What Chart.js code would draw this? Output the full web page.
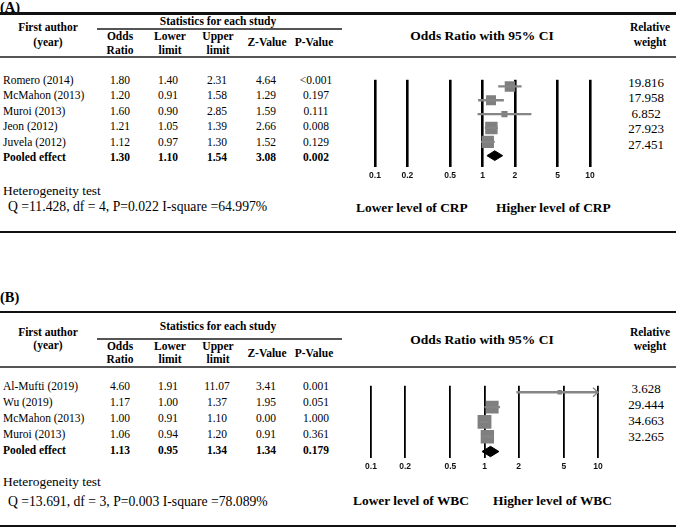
<!DOCTYPE html>
<html>
<head>
<meta charset="utf-8">
<script src="https://cdn.jsdelivr.net/npm/chart.js@4.4.0/dist/chart.umd.min.js"></script>
<style>
  html, body { margin: 0; padding: 0; background: #fff; }
  #page { position: relative; width: 676px; height: 527px; overflow: hidden;
          font-family: "Liberation Serif", "Times New Roman", serif; color: #000; }
  .t { position: absolute; white-space: nowrap; line-height: 1; }
  .c { transform: translate(-50%, -50%); text-align: center; }
  .l { transform: translate(0, -50%); }
  .b { font-weight: bold; }
  .rule { position: absolute; }
  canvas { position: absolute; }
</style>
</head>
<body>
<div id="page"></div>
<script>
'use strict';

// tick values of the odds ratio axis (log scale)
var orTicks = [0.1, 0.2, 0.5, 1, 2, 5, 10];

// (A) CRP
var studiesA = ['Romero (2014)', 'McMahon (2013)', 'Muroi (2013)', 'Jeon (2012)', 'Juvela (2012)'];
var oddsA    = [1.80, 1.20, 1.60, 1.21, 1.12];
var lowerA   = [1.40, 0.91, 0.90, 1.05, 0.97];
var upperA   = [2.31, 1.58, 2.85, 1.39, 1.30];
var zA       = [4.64, 1.29, 1.59, 2.66, 1.52];
var pA       = ['<0.001', '0.197', '0.111', '0.008', '0.129'];
var weightA  = [19.816, 17.958, 6.852, 27.923, 27.451];
var pooledA  = { or: 1.30, lower: 1.10, upper: 1.54, z: 3.08, p: '0.002' };
var hetA     = 'Q =11.428, df = 4, P=0.022  I-square =64.997%';

// (B) WBC
var studiesB = ['Al-Mufti (2019)', 'Wu (2019)', 'McMahon (2013)', 'Muroi (2013)'];
var oddsB    = [4.60, 1.17, 1.00, 1.06];
var lowerB   = [1.91, 1.00, 0.91, 0.94];
var upperB   = [11.07, 1.37, 1.10, 1.20];
var zB       = [3.41, 1.95, 0.00, 0.91];
var pB       = ['0.001', '0.051', '1.000', '0.361'];
var weightB  = [3.628, 29.444, 34.663, 32.265];
var pooledB  = { or: 1.13, lower: 0.95, upper: 1.34, z: 1.34, p: '0.179' };
var hetB     = 'Q =13.691, df = 3, P=0.003  I-square =78.089%';

var page = document.getElementById('page');

function txt(x, y, s, cls, size) {
  var d = document.createElement('div');
  d.className = 't ' + cls;
  d.style.left = x + 'px';
  d.style.top = y + 'px';
  d.style.fontSize = size + 'px';
  d.textContent = s;
  page.appendChild(d);
}

function rule(x1, x2, y, h, color) {
  var d = document.createElement('div');
  d.className = 'rule';
  d.style.left = x1 + 'px';
  d.style.width = (x2 - x1) + 'px';
  d.style.top = (y - h / 2) + 'px';
  d.style.height = h + 'px';
  d.style.background = color;
  page.appendChild(d);
}

var arrowPlugin = {
  id: 'clipArrow',
  afterDatasetsDraw: function (chart, args, opts) {
    var xs = chart.scales.x, ys = chart.scales.y, ctx = chart.ctx;
    opts.upper.forEach(function (u, i) {
      if (u <= xs.max) return;
      var px = xs.getPixelForValue(xs.max), py = ys.getPixelForValue(i);
      ctx.save();
      ctx.strokeStyle = opts.color;
      ctx.lineWidth = 1.4;
      ctx.beginPath();
      ctx.moveTo(px - 5, py - 4.5);
      ctx.lineTo(px, py);
      ctx.lineTo(px - 5, py + 4.5);
      ctx.stroke();
      ctx.restore();
    });
  }
};

function panel(p) {
  var L = p.lay;
  var cols = [120, 168, 217, 266, 314];
  var fs = 11.5, hs = 11.5;

  txt(0, L.labelY, p.label, 'l b', 14.5);
  rule(0, 676, L.topRule, 2.6, '#111');

  txt(48, L.authorY[0], 'First author', 'c b', hs);
  txt(48, L.authorY[1], '(year)', 'c b', hs);
  txt(218, L.statY, 'Statistics for each study', 'c b', hs);
  rule(97, 342, L.statRule, 1.3, '#555');
  txt(cols[0], L.hdr1, 'Odds', 'c b', hs);
  txt(cols[0], L.hdr2, 'Ratio', 'c b', hs);
  txt(cols[1] + 2, L.hdr1, 'Lower', 'c b', hs);
  txt(cols[1] + 2, L.hdr2, 'limit', 'c b', hs);
  txt(cols[2] + 1, L.hdr1, 'Upper', 'c b', hs);
  txt(cols[2] + 1, L.hdr2, 'limit', 'c b', hs);
  txt(cols[3] + 1, L.hdrMid, 'Z-Value', 'c b', hs);
  txt(cols[4], L.hdrMid, 'P-Value', 'c b', hs);
  txt(482, L.ciTitleY, 'Odds Ratio with 95% CI', 'c b', 13.5);
  txt(650, L.relY[0], 'Relative', 'c b', hs);
  txt(650, L.relY[1], 'weight', 'c b', hs);
  rule(0, 676, L.headRule, 1.3, '#555');

  p.studies.forEach(function (s, i) {
    var y = L.rowY0 + L.rowStep * i;
    txt(3, y, s, 'l', fs);
    txt(cols[0], y, p.odds[i].toFixed(2), 'c', fs);
    txt(cols[1], y, p.lower[i].toFixed(2), 'c', fs);
    txt(cols[2], y, p.upper[i].toFixed(2), 'c', fs);
    txt(cols[3], y, p.z[i].toFixed(2), 'c', fs);
    txt(cols[4] + 2, y, p.p[i], 'c', fs);
    txt(646, y + 1, p.weight[i].toFixed(3), 'c', 13);
  });
  var yp = L.rowY0 + L.rowStep * p.studies.length;
  txt(3, yp, 'Pooled effect', 'l b', fs);
  txt(cols[0], yp, p.pooled.or.toFixed(2), 'c b', fs);
  txt(cols[1], yp, p.pooled.lower.toFixed(2), 'c b', fs);
  txt(cols[2], yp, p.pooled.upper.toFixed(2), 'c b', fs);
  txt(cols[3], yp, p.pooled.z.toFixed(2), 'c b', fs);
  txt(cols[4] + 2, yp, p.pooled.p, 'c b', fs);

  txt(3, L.hetY, 'Heterogeneity test', 'l', 13.4);
  txt(8, L.qY, p.het, 'l', 13.7);
  txt(L.lowerX, L.levelY, 'Lower level of ' + p.marker, 'l b', 13.4);
  txt(L.higherX, L.levelY, 'Higher level of ' + p.marker, 'l b', 13.4);
  rule(0, 676, L.bottomRule, 2.6, '#111');

  // forest plot
  var padX = 20, padTop = 4, axisH = 24;
  var canvas = document.createElement('canvas');
  canvas.width = (L.plotRight - L.plotLeft) + 2 * padX;
  canvas.height = (L.plotBottom - L.plotTop) + padTop + axisH;
  canvas.style.left = (L.plotLeft - padX) + 'px';
  canvas.style.top = (L.plotTop - padTop) + 'px';
  page.appendChild(canvas);

  var n = p.studies.length;
  var grey = '#858585';
  var datasets = p.studies.map(function (s, i) {
    return {
      type: 'line',
      data: [{ x: p.lower[i], y: i }, { x: p.upper[i], y: i }],
      borderColor: grey, borderWidth: 2.3, pointRadius: 0, clip: 0
    };
  });
  datasets.push({
    type: 'scatter',
    data: p.odds.map(function (v, i) { return { x: v, y: i }; }),
    pointStyle: 'rect',
    pointRadius: p.weight.map(function (w) { return 2.35 * Math.sqrt(w) * Math.SQRT1_2; }),
    backgroundColor: '#7f7f7f', borderWidth: 0
  });
  var h = 0.35;
  datasets.push({
    type: 'line',
    data: [
      { x: p.pooled.lower, y: n }, { x: p.pooled.or, y: n - h },
      { x: p.pooled.upper, y: n }, { x: p.pooled.or, y: n + h },
      { x: p.pooled.lower, y: n }
    ],
    fill: 'shape', backgroundColor: '#000', borderColor: '#000', borderWidth: 1, pointRadius: 0
  });

  new Chart(canvas, {
    type: 'line',
    data: { datasets: datasets },
    plugins: [arrowPlugin],
    options: {
      responsive: false,
      animation: false,
      events: [],
      layout: { padding: { left: padX, right: padX, top: padTop, bottom: 0 } },
      plugins: {
        legend: { display: false },
        tooltip: { enabled: false },
        clipArrow: { upper: p.upper, color: grey }
      },
      scales: {
        x: {
          type: 'logarithmic', min: orTicks[0], max: orTicks[orTicks.length - 1],
          afterBuildTicks: function (s) { s.ticks = orTicks.map(function (v) { return { value: v }; }); },
          afterFit: function (s) { s.height = axisH; },
          grid: { color: '#000', lineWidth: L.gridWidth, drawTicks: false },
          border: { display: false },
          ticks: {
            autoSkip: false, maxRotation: 0, padding: 4, color: '#111',
            font: { family: 'Liberation Sans', size: 8.5, weight: 'bold' },
            callback: function (v) { return String(v); }
          }
        },
        y: { type: 'linear', reverse: true, min: L.yMin, max: L.yMax, display: false }
      }
    }
  });
}

panel({
  label: '(A)', marker: 'CRP', het: hetA,
  studies: studiesA, odds: oddsA, lower: lowerA, upper: upperA, z: zA, p: pA, weight: weightA, pooled: pooledA,
  lay: {
    labelY: 7, topRule: 13.5, statY: 21.5, statRule: 29, hdr1: 37, hdr2: 51, hdrMid: 43,
    authorY: [28, 43], ciTitleY: 36, relY: [28, 43], headRule: 57,
    rowY0: 81, rowStep: 15.4,
    plotLeft: 375, plotRight: 590, plotTop: 75, plotBottom: 167, yMin: -0.48, yMax: 5.82, gridWidth: 2.6,
    hetY: 191, qY: 207, levelY: 208, lowerX: 356, higherX: 496, bottomRule: 232
  }
});

panel({
  label: '(B)', marker: 'WBC', het: hetB,
  studies: studiesB, odds: oddsB, lower: lowerB, upper: upperB, z: zB, p: pB, weight: weightB, pooled: pooledB,
  lay: {
    labelY: 297, topRule: 312, statY: 327, statRule: 339, hdr1: 347, hdr2: 360, hdrMid: 354,
    authorY: [333, 346], ciTitleY: 340, relY: [333, 347], headRule: 367,
    rowY0: 387, rowStep: 16,
    plotLeft: 371, plotRight: 598, plotTop: 380, plotBottom: 458, yMin: -0.4375, yMax: 4.4375, gridWidth: 1.8,
    hetY: 482, qY: 502, levelY: 501, lowerX: 353, higherX: 493, bottomRule: 526
  }
});
</script>
</body>
</html>
